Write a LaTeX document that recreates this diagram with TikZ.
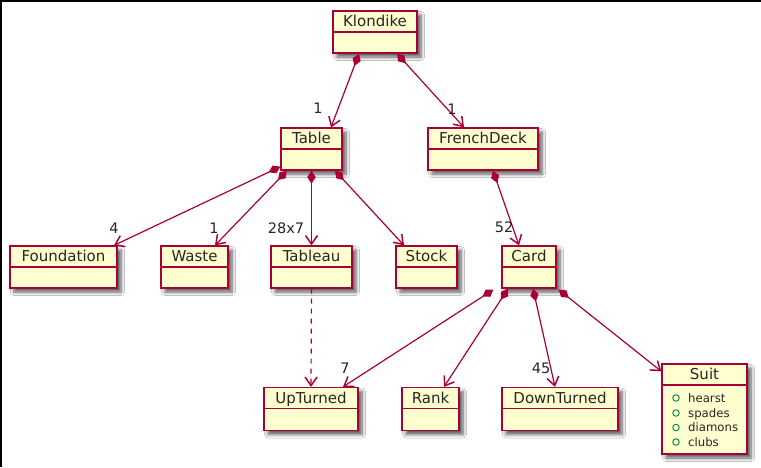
\documentclass[tikz,border=0pt]{standalone}
\usepackage{fontspec}
\setmainfont{DejaVu Sans}
\usetikzlibrary{arrows.meta,shadows.blur,calc}
\definecolor{umlred}{HTML}{A80036}
\definecolor{umlfill}{HTML}{FEFECE}
\definecolor{umlgreen}{HTML}{038048}
\tikzset{
  cls/.style={rectangle, draw=umlred, fill=umlfill, line width=1.3pt, inner sep=0pt,
    blur shadow={shadow xshift=4pt, shadow yshift=-4pt, shadow blur radius=3.5pt, shadow blur steps=6, shadow opacity=65}},
  ttl/.style={inner sep=0pt, anchor=base, font=\fontsize{15}{18}\selectfont, text=black!85},
  attr/.style={inner sep=0pt, anchor=base west, font=\fontsize{11.7}{14}\selectfont, text=black!85},
  mult/.style={inner sep=0pt, font=\fontsize{14.5}{17}\selectfont, text=black!85},
  edge/.style={draw=umlred, line width=1.2pt,
    {Diamond[length=13pt,width=8.5pt,fill=umlred]}-{Straight Barb[length=8.5pt,width=12pt,line width=1.5pt]}},
  dep/.style={draw=umlred, line width=1.2pt, dash pattern=on 5pt off 5pt,
    -{Straight Barb[length=8.5pt,width=12pt,line width=1.5pt]}},
  dot/.style={circle, draw=umlgreen, line width=0.9pt, minimum size=6.5pt, inner sep=0pt}
}
\begin{document}
\begin{tikzpicture}[x=1pt,y=-1pt]
\useasboundingbox (0,0) rectangle (761,467);
\fill[white] (0,0) rectangle (761,467);
\fill[black] (0,0) rectangle (761,2);
\fill[black] (0,0) rectangle (2,467);

% class boxes
\node[cls, minimum width=84pt, minimum height=42pt] (klondike) at (375,32) {};
\node[cls, minimum width=61pt, minimum height=42pt] (table) at (311.5,149) {};
\node[cls, minimum width=110pt, minimum height=42pt] (french) at (483,149) {};
\node[cls, minimum width=107pt, minimum height=42pt] (foundation) at (63.5,267) {};
\node[cls, minimum width=67pt, minimum height=42pt] (waste) at (194.5,267) {};
\node[cls, minimum width=81pt, minimum height=42pt] (tableau) at (311.5,267) {};
\node[cls, minimum width=61pt, minimum height=42pt] (stock) at (426.5,267) {};
\node[cls, minimum width=54pt, minimum height=42pt] (card) at (529,267) {};
\node[cls, minimum width=94pt, minimum height=43pt] (upturned) at (311,409) {};
\node[cls, minimum width=57pt, minimum height=43pt] (rank) at (430.5,409) {};
\node[cls, minimum width=116pt, minimum height=43pt] (downturned) at (560,409) {};
\node[cls, minimum width=85pt, minimum height=90pt] (suit) at (704.5,409) {};

% dividers and titles
\foreach \n/\t in {klondike/Klondike, table/Table, french/FrenchDeck, foundation/Foundation,
  waste/Waste, tableau/Tableau, stock/Stock, card/Card, upturned/UpTurned, rank/Rank,
  downturned/DownTurned, suit/Suit}{
  \draw[umlred, line width=1.3pt] ([yshift=-21.5pt]\n.north west) -- ([yshift=-21.5pt]\n.north east);
  \node[ttl] (\n-t) at ([yshift=-16.5pt]\n.north) {\t};
}

% Suit attributes
\node[dot] (d1) at (676,398) {};
\node[dot] (d2) at (676,413) {};
\node[dot] (d3) at (676,427.5) {};
\node[dot] (d4) at (676,442) {};
\node[attr] (a1) at (688,402) {hearst};
\node[attr] (a2) at (688,417) {spades};
\node[attr] (a3) at (688,431.5) {diamons};
\node[attr] (a4) at (688,446) {clubs};

% composition edges
\draw[edge] ([xshift=-16pt]klondike.south) -- ([xshift=19.5pt]table.north);
\draw[edge] ([xshift=22pt]klondike.south) -- ([xshift=-19pt]french.north);
\draw[edge] ([yshift=4pt]table.south west) -- ([xshift=50.5pt]foundation.north);
\draw[edge] ([xshift=-24.5pt]table.south) -- ([xshift=20.5pt]waste.north);
\draw[edge] (table.south) -- (tableau.north);
\draw[edge] ([xshift=23.5pt]table.south) -- ([xshift=-22.5pt]stock.north);
\draw[edge] ([xshift=10pt]french.south) -- ([xshift=-10pt]card.north);
\draw[edge] ([xshift=-8pt,yshift=-1pt]card.south west) -- ([xshift=32pt]upturned.north);
\draw[edge] ([xshift=-21pt]card.south) -- ([xshift=13.5pt]rank.north);
\draw[edge] ([xshift=4pt]card.south) -- ([xshift=-5pt]downturned.north);
\draw[edge] ([xshift=2pt,yshift=-1pt]card.south east) -- ([yshift=-8pt]suit.north west);
\draw[dep] (tableau.south) -- (upturned.north);

% multiplicities
\node[mult] (m1) at (318,108) {1};
\node[mult] (m2) at (452,109) {1};
\node[mult] (m3) at (114,228) {4};
\node[mult] (m4) at (214,228) {1};
\node[mult] (m5) at (286,228) {28x7};
\node[mult] (m6) at (504,227) {52};
\node[mult] (m7) at (345,368) {7};
\node[mult] (m8) at (541,368) {45};
\end{tikzpicture}
\end{document}
